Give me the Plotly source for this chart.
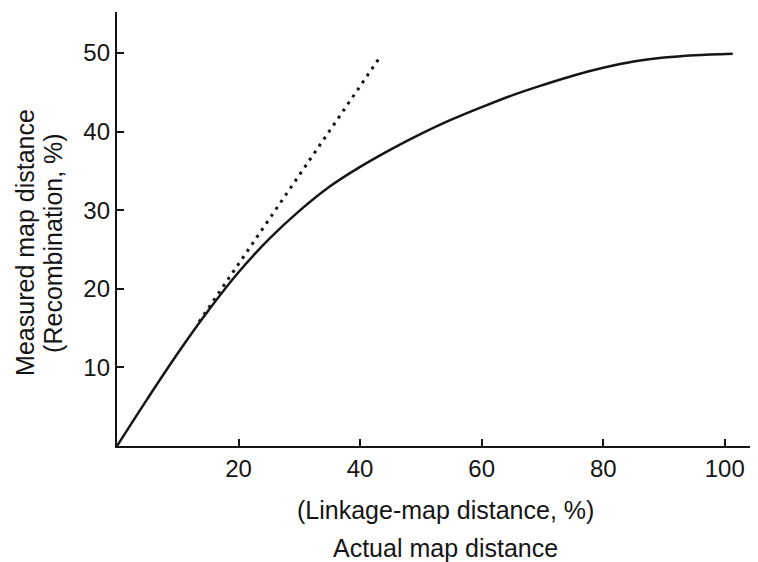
import plotly.graph_objects as go

# Measured (recombination) vs actual map distance
actual = [0, 5, 10, 15, 20, 25, 30, 35, 40, 45, 50, 55, 60, 65, 70, 75, 80, 85, 90, 95, 101.3]
measured = [0, 6.0, 11.8, 17.2, 22.1, 26.3, 29.9, 33.0, 35.5, 37.7, 39.7, 41.5, 43.1,
            44.6, 45.9, 47.1, 48.1, 48.9, 49.4, 49.7, 49.9]

# Dotted straight line
tangent_x = [13.5, 43.3]
tangent_y = [15.8, 49.5]

x_ticks = [20, 40, 60, 80, 100]
y_ticks = [10, 20, 30, 40, 50]

x_title_lines = ["(Linkage-map distance, %)", "Actual map distance"]
y_title_lines = ["Measured map distance", "(Recombination, %)"]

ink = "#151515"
font_family = "Liberation Sans, Arial, sans-serif"

fig = go.Figure()
fig.add_trace(go.Scatter(
    x=tangent_x, y=tangent_y, mode="lines",
    line=dict(color=ink, width=3, dash="3px,5.5px"),
    hoverinfo="skip", showlegend=False,
))
fig.add_trace(go.Scatter(
    x=actual, y=measured, mode="lines",
    line=dict(color=ink, width=2.5, shape="spline", smoothing=1.0),
    showlegend=False,
))

# page body adds an 8px offset, so the figure is drawn 8px smaller
fig.update_layout(
    width=750, height=554,
    margin=dict(l=109, r=1, t=4, b=116),
    paper_bgcolor="white", plot_bgcolor="white",
    font=dict(family=font_family, size=25, color=ink),
    xaxis=dict(
        range=[0, 105.3], tickvals=x_ticks, ticktext=[str(v) for v in x_ticks],
        ticks="inside", ticklen=7, tickwidth=2, tickcolor=ink,
        showline=True, linecolor=ink, linewidth=2.4,
        showgrid=False, zeroline=False, fixedrange=True,
        tickfont=dict(size=24),
    ),
    yaxis=dict(
        range=[0, 55.2], tickvals=y_ticks, ticktext=[str(v) for v in y_ticks],
        ticks="inside", ticklen=7, tickwidth=2, tickcolor=ink,
        showline=True, linecolor=ink, linewidth=2.4,
        showgrid=False, zeroline=False, fixedrange=True,
        tickfont=dict(size=24),
    ),
    annotations=[
        dict(text=x_title_lines[0], xref="paper", yref="paper", x=0.5125, y=0,
             xanchor="center", yanchor="middle", yshift=-64, showarrow=False,
             font=dict(size=25)),
        dict(text=x_title_lines[1], xref="paper", yref="paper", x=0.5125, y=0,
             xanchor="center", yanchor="middle", yshift=-102, showarrow=False,
             font=dict(size=25)),
        dict(text=y_title_lines[0], xref="paper", yref="paper", x=0, y=0.468,
             xanchor="center", yanchor="middle", xshift=-92, textangle=-90,
             showarrow=False, font=dict(size=25)),
        dict(text=y_title_lines[1], xref="paper", yref="paper", x=0, y=0.468,
             xanchor="center", yanchor="middle", xshift=-64, textangle=-90,
             showarrow=False, font=dict(size=25)),
    ],
)

fig.write_html("out.html")
